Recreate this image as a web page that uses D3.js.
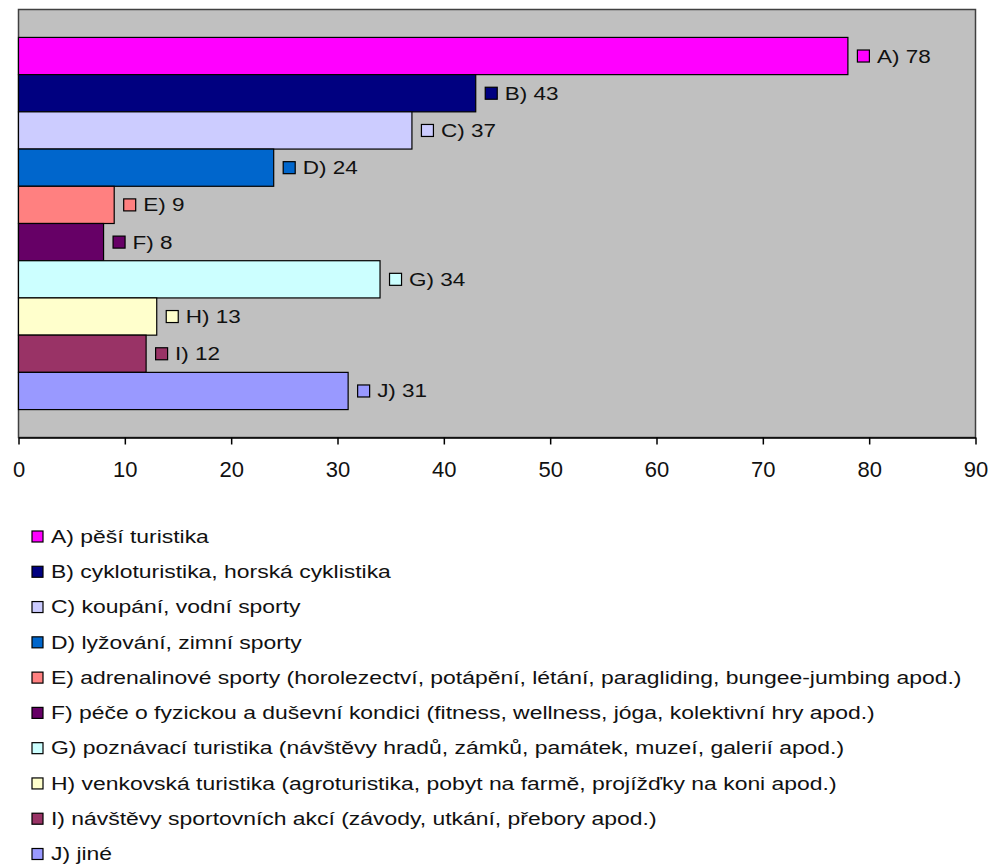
<!DOCTYPE html>
<html><head><meta charset="utf-8">
<script src="https://cdn.jsdelivr.net/npm/d3@7"></script>
<style>
body{margin:0;background:#fff;}
text{font-family:"Liberation Sans",Arial,sans-serif;}
</style></head>
<body><svg id="c" width="989" height="864"></svg>
<script>
const letters = ["A","B","C","D","E","F","G","H","I","J"];
const values = [78, 43, 37, 24, 9, 8, 34, 13, 12, 31];
const names = [
  "pěší turistika",
  "cykloturistika, horská cyklistika",
  "koupání, vodní sporty",
  "lyžování, zimní sporty",
  "adrenalinové sporty (horolezectví, potápění, létání, paragliding, bungee-jumbing apod.)",
  "péče o fyzickou a duševní kondici (fitness, wellness, jóga, kolektivní hry apod.)",
  "poznávací turistika (návštěvy hradů, zámků, památek, muzeí, galerií apod.)",
  "venkovská turistika (agroturistika, pobyt na farmě, projížďky na koni apod.)",
  "návštěvy sportovních akcí (závody, utkání, přebory apod.)",
  "jiné"
];
const colors = ["#FF00FF","#000080","#CCCCFF","#0066CC","#FF8080","#660066","#CCFFFF","#FFFFCC","#993366","#9999FF"];
const ticks = [0,10,20,30,40,50,60,70,80,90];

const svg = d3.select("#c");
const L = 18.5, R = 975.5, T = 9.5, B = 437.5;

const x = d3.scaleLinear().domain([0,90]).range([L,R]);
const y = d3.scaleBand().domain(letters).range([T,B]).paddingInner(0).paddingOuter(0.75);

svg.append("rect").attr("x",L).attr("y",T).attr("width",R-L).attr("height",B-T)
  .attr("fill","#C0C0C0").attr("stroke","#404040").attr("stroke-width",1.5);

const g = svg.append("g");
g.selectAll("rect.bar").data(letters).join("rect").attr("class","bar")
  .attr("x",x(0)).attr("y",d=>y(d))
  .attr("width",(d,i)=>x(values[i])-x(0)).attr("height",y.bandwidth())
  .attr("fill",(d,i)=>colors[i]).attr("stroke","#000").attr("stroke-width",1.2);

// data labels
const lab = g.selectAll("g.lab").data(letters).join("g").attr("class","lab")
  .attr("transform",(d,i)=>`translate(${x(values[i])},${y(d)+y.bandwidth()/2})`);
lab.append("rect").attr("x",9.5).attr("y",-6).attr("width",12).attr("height",12)
  .attr("fill",(d,i)=>colors[i]).attr("stroke","#000").attr("stroke-width",1.2);
lab.append("text").attr("transform","translate(29,0) scale(1.25,1)")
  .attr("dy","0.36em").attr("font-size",18).attr("fill","#111")
  .text((d,i)=>`${d}) ${values[i]}`);

// axis
const ax = svg.append("g").attr("transform",`translate(0,${B})`)
  .call(d3.axisBottom(x).tickValues(ticks).tickSize(7).tickPadding(17).tickSizeOuter(0));
ax.select(".domain").attr("stroke","#000").attr("stroke-width",1.5);
ax.selectAll(".tick line").attr("stroke","#000").attr("stroke-width",1.5);
ax.selectAll(".tick text").attr("font-size",22).attr("fill","#111")
  .attr("font-family","Liberation Sans, Arial, sans-serif");

// legend
const ly = d3.scalePoint().domain(letters).range([536.5,854]);
const lg = svg.append("g").selectAll("g").data(letters).join("g")
  .attr("transform",d=>`translate(31.5,${ly(d)})`);
lg.append("rect").attr("x",0.5).attr("y",-5.5).attr("width",11).attr("height",11)
  .attr("fill",(d,i)=>colors[i]).attr("stroke","#000").attr("stroke-width",1.2);
lg.append("text").attr("transform","translate(19.5,0) scale(1.31,1)")
  .attr("dy","0.36em").attr("font-size",17.5).attr("fill","#111")
  .text((d,i)=>`${d}) ${names[i]}`);
</script></body></html>
